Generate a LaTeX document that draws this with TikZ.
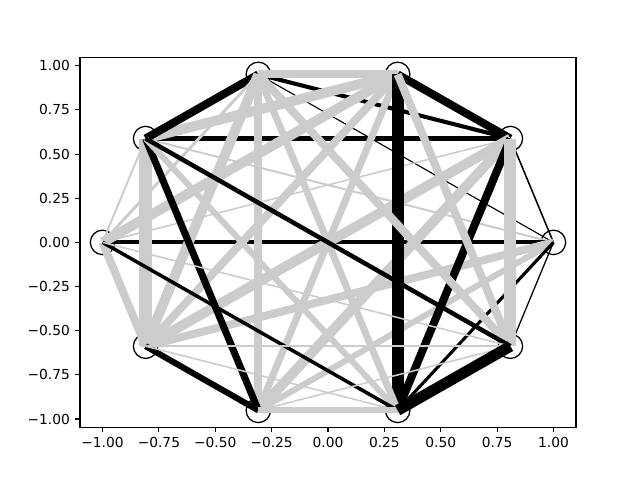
\documentclass[tikz,border=0pt]{standalone}
\usepackage{fontspec}
\setmainfont{DejaVu Sans}
\definecolor{edgegray}{gray}{0.8}
\tikzset{
  vtx/.style={circle, draw=black, fill=white, line width=0.9pt, minimum size=17.4pt, inner sep=0pt},
  tick/.style={line width=0.8pt},
  ticklabel/.style={font=\fontsize{9.8}{12}\selectfont, inner sep=0pt}
}
\begin{document}
\begin{tikzpicture}[x=5.636cm, y=4.416cm]
\useasboundingbox (-1.4549,-1.3450) rectangle (1.3839,1.3722);
%% vertices on the unit circle
\foreach \k in {0,...,9}
  \node[vtx] (v\k) at ({cos(36*\k)},{sin(36*\k)}) {};
%% edges, widths in pt
\foreach \a/\b/\c/\w in {
  0/1/black/1.1, 0/3/black/0.8, 0/4/edgegray/1.4, 0/5/black/3.0,
  0/6/edgegray/5.7, 0/7/edgegray/4.3, 0/8/black/2.2, 0/9/black/0.9,
  1/2/black/5.7, 1/3/black/2.9, 1/4/black/3.6, 1/5/edgegray/1.1,
  1/6/edgegray/7.1, 1/7/edgegray/7.1, 1/8/black/5.7, 1/9/edgegray/8.5,
  2/3/edgegray/5.7, 2/4/edgegray/7.1, 2/5/edgegray/7.1, 2/6/edgegray/5.7,
  2/7/edgegray/5.0, 2/8/black/8.5, 2/9/edgegray/5.7,
  3/4/black/5.7, 3/5/edgegray/2.1, 3/6/edgegray/7.1, 3/7/edgegray/5.7,
  3/8/edgegray/5.0, 3/9/edgegray/5.7,
  4/5/edgegray/1.4, 4/6/edgegray/9.2, 4/7/black/5.0, 4/8/edgegray/4.3,
  4/9/black/3.2,
  5/6/edgegray/5.7, 5/8/black/2.5, 5/9/edgegray/1.1,
  6/7/black/4.3, 6/8/edgegray/1.1, 6/9/edgegray/1.1,
  7/8/edgegray/4.3, 7/9/edgegray/1.1,
  8/9/black/7.8}
  \draw[line width=\w pt, draw=\c] (v\a.center) -- (v\b.center);
%% axes frame
\draw[line width=0.8pt] (-1.1,-1.04616) rectangle (1.1,1.04616);
%% x ticks
\foreach \v/\t in {-1/−1.00, -0.75/−0.75, -0.5/−0.50, -0.25/−0.25, 0/0.00, 0.25/0.25, 0.5/0.50, 0.75/0.75, 1/1.00} {
  \draw[tick] (\v,-1.04616) -- ++(0,-3.5pt);
  \node[ticklabel, anchor=north] at ([yshift=-7pt]\v,-1.04616) {\t};
}
%% y ticks
\foreach \v/\t in {-1/−1.00, -0.75/−0.75, -0.5/−0.50, -0.25/−0.25, 0/0.00, 0.25/0.25, 0.5/0.50, 0.75/0.75, 1/1.00} {
  \draw[tick] (-1.1,\v) -- ++(-3.5pt,0);
  \node[ticklabel, anchor=east] at ([xshift=-7pt]-1.1,\v) {\t};
}
\end{tikzpicture}
\end{document}
